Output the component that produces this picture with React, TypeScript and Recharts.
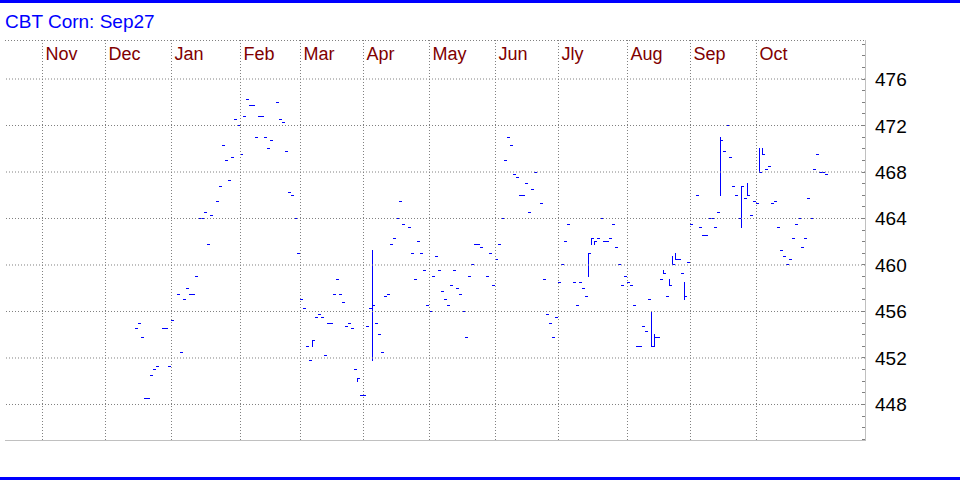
import { ComposedChart, Bar, XAxis, YAxis, ReferenceLine } from 'recharts';

// ── Data ────────────────────────────────────────────────────────────────────
// x = weekday slot counted from Nov 1 (3px per weekday on the original chart)
const DAYS = [
    31, 32, 33, 34, 35, 36, 37, 38, 40, 41, 42, 43, 45, 46, 47, 48, 49, 50, 51, 52,
    53, 54, 55, 56, 58, 59, 60, 61, 62, 63, 64, 65, 66, 67, 68, 69, 70, 71, 72, 73,
    74, 75, 76, 78, 79, 80, 81, 82, 83, 84, 85, 86, 87, 88, 89, 90, 91, 92, 93, 94,
    95, 96, 97, 98, 99, 100, 101, 102, 103, 104, 105, 106, 107, 108, 109, 110, 111, 112, 113, 114,
    115, 116, 117, 118, 119, 120, 122, 123, 124, 125, 126, 127, 128, 129, 130, 131, 132, 133, 134, 135,
    136, 137, 138, 139, 140, 141, 142, 143, 144, 145, 146, 148, 149, 150, 151, 152, 153, 154, 155, 156,
    157, 158, 159, 160, 161, 162, 163, 164, 166, 167, 168, 169, 170, 171, 172, 173, 174, 175, 177, 178,
    179, 180, 181, 182, 183, 184, 185, 186, 187, 188, 189, 190, 191, 192, 193, 194, 195, 196, 197, 198,
    199, 200, 201, 202, 203, 204, 205, 206, 207, 208, 209, 210, 211, 212, 213, 214, 215, 216, 218, 219,
    220, 221, 222, 223, 224, 225, 226, 227, 228, 229, 230, 231, 232, 233, 234, 235, 236, 237, 238, 239,
    240, 241, 242, 243, 244, 245, 246, 247, 248, 249, 250, 251, 252, 253, 254, 255, 256, 257, 258, 259,
    260, 261,
];

const CLOSES = [
    454.5, 455, 453.75, 448.5, 448.5, 450.5, 451, 451.25, 454.5, 454.5, 451.25, 455.25, 457.5, 452.5, 457, 458, 457.5, 457.5, 459, 464,
    464, 464.5, 461.75, 464.25, 465.5, 466.75, 470.25, 469, 467.25, 469.25, 472.5, 472, 469.5, 472.75, 474.25, 473.75, 473.75, 471, 472.75, 472.75,
    471, 470, 470.75, 474, 472.5, 472.25, 469.75, 466.25, 466, 464, 461, 457, 456.25, 453, 451.75, 453.5, 455.5, 455.75, 455.5, 452.25,
    455, 455, 457.5, 458.75, 457.5, 456.75, 454.75, 455, 454.5, 451, 450.25, 448.75, 448.75, 454.75, 456.25, 456.5, 455, 454, 452.5, 457.25,
    457.5, 461.75, 462.25, 464, 465.5, 463.5, 463.25, 461, 458.75, 462, 461, 459.5, 456.5, 456, 459, 460.75, 459.5, 457.75, 457, 456.5,
    458.25, 459.5, 458, 457.5, 456, 453.75, 459, 460, 461.75, 461.75, 461.5, 459, 461, 458.25, 460.5, 461.75, 464, 469, 471, 470.25,
    467.75, 467.5, 466, 466, 467, 464.5, 466.5, 468, 465.25, 458.75, 455.75, 455, 453.75, 455.5, 458.5, 460, 462, 463.5, 458.5, 456.5,
    458.5, 458, 457.25, 461, 462.25, 462, 462.25, 464, 462, 462, 462.25, 463.5, 461.5, 460, 458.25, 459, 458.5, 458.25, 456.5, 453,
    453, 454.75, 454.25, 457, 453, 453.75, 453.75, 458.75, 459.25, 457.25, 458.25, 460, 460.5, 460.5, 459.25, 457.25, 460.25, 463.5, 466, 463.25,
    462.5, 462.5, 464, 464, 463.25, 464.5, 470.75, 469.75, 472, 469.25, 466.75, 466, 464, 466.75, 465.75, 466, 464.25, 465.5, 465.25, 468,
    469.5, 468.25, 468.5, 465.25, 465.5, 463.25, 461.25, 460.75, 460, 460.5, 462.25, 463.5, 464, 461.5, 462.25, 465.75, 464, 468.25, 469.5, 468,
    468, 467.75,
];

// sessions that traded a range (all other days are single prints)
const RANGE_DAYS = [90, 105, 110, 182, 183, 184, 203, 204, 207, 209, 210, 211, 214, 226, 233, 235, 239, 240];
const RANGE_HIGHS = [453.5, 450.25, 461.25, 461, 462.25, 462, 456, 454, 459.5, 458.75, 460.75, 461, 458.5, 471, 466.75, 467, 470, 470];
const RANGE_LOWS = [453, 450, 451.75, 459, 461.75, 461.75, 453, 453, 459.25, 458.25, 460, 460.5, 457, 466, 463.25, 466, 468, 469.5];

const MONTHS = ['Nov', 'Dec', 'Jan', 'Feb', 'Mar', 'Apr', 'May', 'Jun', 'Jly', 'Aug', 'Sep', 'Oct'];
const MONTH_START_DAYS = [0, 21, 43, 66, 86, 107, 129, 151, 172, 195, 216, 238];

const PRICE_TICKS = [448, 452, 456, 460, 464, 468, 472, 476];
const MINOR_TICKS = Array.from({ length: 35 }, (_, i) => 445 + i);

const ROWS = DAYS.map((day, i) => {
    const r = RANGE_DAYS.indexOf(day);
    const close = CLOSES[i];
    const high = r >= 0 ? RANGE_HIGHS[r] : close;
    const low = r >= 0 ? RANGE_LOWS[r] : close;
    return { day, close, high, low, range: [low, high] };
});

const FONT = "'Liberation Sans', Arial, sans-serif";
const BLUE = '#0000ff';

// ── HLC bar: vertical high-low, close tick to the right ─────────────────────
const HlcBar = (props: any) => {
    const { x, y, width, height, payload } = props;
    if (x == null || y == null || !payload) return null;
    const cx = Math.floor(x + width / 2);
    const span = Math.abs(height || 0);
    const top = Math.min(y, y + (height || 0));
    const perUnit = payload.high > payload.low ? span / (payload.high - payload.low) : 0;
    const yHigh = Math.floor(top);
    const yLow = Math.floor(top + span);
    const yClose = Math.floor(top + (payload.high - payload.close) * perUnit);
    return (
        <g>
            <rect x={cx} y={yHigh} width={1} height={yLow - yHigh + 1} fill={BLUE} />
            <rect x={cx + 1} y={yClose} width={2} height={1} fill={BLUE} />
        </g>
    );
};

// month name just right of its gridline, inside the top of the plot
const MonthLabel = ({ viewBox, text }: any) => {
    if (!viewBox) return null;
    return (
        <text x={viewBox.x + 3} y={viewBox.y + 19.5} fill="#800000" fontSize={18} fontFamily={FONT}>
            {text}
        </text>
    );
};

const PriceTick = ({ x, y, payload }: any) => {
    const yy = Math.floor(y) + 0.5;
    const labeled = PRICE_TICKS.includes(payload.value);
    return (
        <g>
            <line x1={x - 3} x2={x} y1={yy} y2={yy} stroke="#808080" />
            {labeled && (
                <text x={x + 10} y={y + 7} fill="#000" fontSize={19} fontFamily={FONT}>
                    {payload.value}
                </text>
            )}
        </g>
    );
};

export default function App() {
    return (
        <div style={{ position: 'absolute', left: 0, top: 0, width: 960, height: 480, background: '#fff' }}>
            <ComposedChart width={960} height={480} data={ROWS} margin={{ top: 40, right: 0, bottom: 40, left: 5 }}>
                <XAxis dataKey="day" type="number" domain={[-12.5, 274.1667]} allowDataOverflow hide />
                <YAxis
                    orientation="right"
                    type="number"
                    domain={[444.946, 479.355]}
                    allowDataOverflow
                    ticks={MINOR_TICKS}
                    interval={0}
                    width={95}
                    axisLine={false}
                    tickLine={false}
                    tickSize={0}
                    tickMargin={0}
                    tick={<PriceTick />}
                />

                {PRICE_TICKS.map((v) => (
                    <ReferenceLine key={`h${v}`} y={v} stroke="#808080" strokeDasharray="1 2" />
                ))}
                {MONTH_START_DAYS.map((d, i) => (
                    <ReferenceLine
                        key={`v${d}`}
                        x={d}
                        stroke="#808080"
                        strokeDasharray="1 2"
                        label={<MonthLabel text={MONTHS[i]} />}
                    />
                ))}

                <Bar dataKey="range" barSize={3} shape={<HlcBar />} isAnimationActive={false} />
            </ComposedChart>

            {/* Frame, title, blue rules */}
            <svg width={960} height={480} style={{ position: 'absolute', left: 0, top: 0, pointerEvents: 'none' }}>
                <rect x={0} y={0} width={960} height={3} fill={BLUE} />
                <rect x={0} y={477} width={960} height={3} fill={BLUE} />
                <text x={5} y={28} fill={BLUE} fontSize={19} fontFamily={FONT}>CBT Corn: Sep27</text>
                <line x1={5} x2={865} y1={40.5} y2={40.5} stroke="#808080" strokeDasharray="1 2" />
                <line x1={865.5} x2={865.5} y1={40} y2={441} stroke="#c0c0c0" />
                <line x1={5} x2={866} y1={440.5} y2={440.5} stroke="#c0c0c0" />
            </svg>
        </div>
    );
}
